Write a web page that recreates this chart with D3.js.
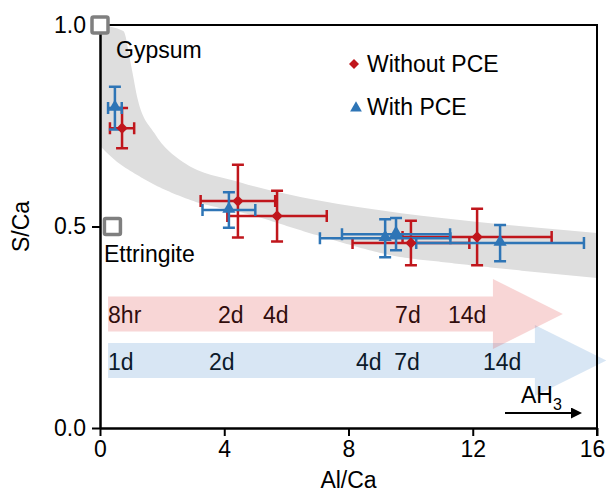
<!DOCTYPE html>
<html>
<head>
<meta charset="utf-8">
<script src="https://cdn.jsdelivr.net/npm/d3@7"></script>
<style>
  html, body { margin: 0; padding: 0; background: #fff; }
  svg { display: block; font-family: "Liberation Sans", Arial, sans-serif; }
</style>
</head>
<body>
<svg id="chart" width="607" height="492"></svg>
<script>
// ---------------- data ----------------
const seriesNames = ["Without PCE", "With PCE"];

// Without PCE (8hr, 2d, 4d, 7d, 14d)
const noPceTimes = ["8hr", "2d", "4d", "7d", "14d"];
const noPceAlCa = [0.71, 4.44, 5.70, 10.01, 12.14];
const noPceSCa = [0.744, 0.563, 0.526, 0.459, 0.474];
const noPceAlErr = [0.39, 1.20, 1.60, 1.88, 2.40];
const noPceSErr = [0.050, 0.090, 0.063, 0.055, 0.070];

// With PCE (1d, 2d, 4d, 7d, 14d)
const pceTimes = ["1d", "2d", "4d", "7d", "14d"];
const pceAlCa = [0.48, 4.15, 9.18, 9.53, 12.88];
const pceSCa = [0.794, 0.541, 0.471, 0.481, 0.459];
const pceAlErr = [0.22, 0.85, 2.10, 1.74, 2.70];
const pceSErr = [0.053, 0.044, 0.047, 0.040, 0.045];

// time-label positions along the arrows (Al/Ca, text start)
const noPceLabelAt = [0.26, 3.80, 5.25, 9.50, 11.20];
const pceLabelAt = [0.26, 3.51, 8.24, 9.47, 12.33];

// reference phases
const refNames = ["Gypsum", "Ettringite"];
const refAlCa = [0.0, 0.40];
const refSCa = [1.0, 0.5];

// grey guide band (upper and lower edges)
const bandUpperX = [0.0, 0.75, 1.0, 1.22, 1.75, 2.67, 4.5, 7.0, 9.7, 11.0, 16.0];
const bandUpperY = [1.0, 0.985, 0.90, 0.814, 0.732, 0.660, 0.610, 0.565, 0.533, 0.521, 0.484];
const bandLowerX = [0.0, 0.4, 1.3, 2.9, 4.8, 7.0, 9.7, 11.0, 16.0];
const bandLowerY = [0.70, 0.67, 0.623, 0.566, 0.530, 0.478, 0.424, 0.412, 0.372];

// axes
const xTicks = [0, 4, 8, 12, 16];
const yTicks = [0.0, 0.5, 1.0];
const xTitle = "Al/Ca";
const yTitle = "S/Ca";

// ---------------- chart ----------------
const svg = d3.select("#chart");
const FONT = 23;
const x = d3.scaleLinear().domain([0, 16]).range([100, 597]);
const y = d3.scaleLinear().domain([0, 1]).range([428, 25]);
const RED = "#c0161c", BLUE = "#2e75b6";

// band: upper curve forward, lower curve backward
const upper = bandUpperX.map((v, i) => [v, bandUpperY[i]]);
const lower = bandLowerX.map((v, i) => [v, bandLowerY[i]]);
const edge = d3.line().x(d => x(d[0])).y(d => y(d[1])).curve(d3.curveMonotoneX);
const pathUp = edge(upper);
const tmp = svg.append("path").attr("d", edge(lower)).attr("fill", "none");
const node = tmp.node(); const L = node.getTotalLength();
const revPts = [];
for (let i = 0; i <= 200; i++) { const p = node.getPointAtLength(L * (1 - i / 200)); revPts.push([p.x, p.y]); }
tmp.remove();
svg.append("path")
  .attr("d", pathUp + "L" + revPts.map(p => p[0].toFixed(2) + "," + p[1].toFixed(2)).join("L") + "Z")
  .attr("fill", "#dedede");

// time labels (drawn under translucent arrows)
const labG = svg.append("g").attr("font-size", FONT).attr("fill", "#000");
labG.selectAll("text.r").data(noPceTimes).join("text")
  .attr("x", (d, i) => x(noPceLabelAt[i])).attr("y", 323).text(d => d);
labG.selectAll("text.b").data(pceTimes).join("text")
  .attr("x", (d, i) => x(pceLabelAt[i])).attr("y", 370).text(d => d);

// arrows
function arrow(x0, xHead, xTip, yc, bodyH, headH) {
  return `M${x(x0)},${yc - bodyH}L${x(xHead)},${yc - bodyH}L${x(xHead)},${yc - headH}` +
    `L${x(xTip)},${yc}L${x(xHead)},${yc + headH}L${x(xHead)},${yc + bodyH}L${x(x0)},${yc + bodyH}Z`;
}
svg.append("path").attr("d", arrow(0.26, 14.0, 16.3, y(0.1675), 17.5, 35.5))
  .attr("fill", "rgb(60,130,200)").attr("fill-opacity", 0.2);
svg.append("path").attr("d", arrow(0.26, 12.65, 14.9, y(0.283), 17.5, 35))
  .attr("fill", "rgb(220,60,60)").attr("fill-opacity", 0.21);

// axes
const gx = svg.append("g").attr("transform", `translate(0,${y(0)})`)
  .call(d3.axisBottom(x).tickValues(xTicks).tickFormat(d3.format("d")).tickSize(8).tickSizeOuter(0));
const gy = svg.append("g").attr("transform", `translate(${x(0)},0)`)
  .call(d3.axisLeft(y).tickValues(yTicks).tickFormat(d3.format(".1f")).tickSize(8).tickSizeOuter(0));
[gx, gy].forEach(g => {
  g.select(".domain").attr("stroke", "#000").attr("stroke-width", 2.5);
  g.selectAll(".tick line").attr("stroke", "#000").attr("stroke-width", 2);
  g.selectAll(".tick text").attr("font-size", FONT).attr("fill", "#000")
    .attr("font-family", "Liberation Sans, Arial, sans-serif");
});
gx.selectAll(".tick text").attr("dy", "0.9em").attr("y", 8)
  .attr("x", d => d === 16 ? -5 : 0);
gy.selectAll(".tick text").attr("x", -14);
// frame top & right
svg.append("path").attr("d", `M${x(0)},${y(1)}H${x(16)}V${y(0) + 8}`)
  .attr("fill", "none").attr("stroke", "#000").attr("stroke-width", 2);

// axis titles
svg.append("text").attr("x", (x(0) + x(16)) / 2).attr("y", 488).attr("text-anchor", "middle")
  .attr("font-size", FONT).text(xTitle);
svg.append("text").attr("transform", `translate(29,${y(0.5)}) rotate(-90)`).attr("text-anchor", "middle")
  .attr("font-size", FONT).text(yTitle);

// reference squares
svg.selectAll("rect.ref").data(refNames).join("rect")
  .attr("x", (d, i) => x(refAlCa[i]) - 8).attr("y", (d, i) => y(refSCa[i]) - 8)
  .attr("width", 16).attr("height", 16).attr("rx", 1.5)
  .attr("fill", "#fff").attr("stroke", "#7f7f7f").attr("stroke-width", 3.5);
svg.append("text").attr("x", 116).attr("y", 58).attr("font-size", FONT).text(refNames[0]);
svg.append("text").attr("x", 104).attr("y", 262).attr("font-size", FONT).text(refNames[1]);

// error bars
function errBars(xs, ys, xe, ye, color) {
  const g = svg.append("g").attr("stroke", color).attr("stroke-width", 2.5).attr("fill", "none");
  const cap = 6;
  xs.forEach((v, i) => {
    const cx = x(v), cy = y(ys[i]);
    const x1 = x(v - xe[i]), x2 = x(v + xe[i]);
    const y1 = y(ys[i] + ye[i]), y2 = y(ys[i] - ye[i]);
    g.append("path").attr("d",
      `M${x1},${cy}H${x2}M${x1},${cy - cap}V${cy + cap}M${x2},${cy - cap}V${cy + cap}` +
      `M${cx},${y1}V${y2}M${cx - cap},${y1}H${cx + cap}M${cx - cap},${y2}H${cx + cap}`);
  });
}
errBars(noPceAlCa, noPceSCa, noPceAlErr, noPceSErr, RED);
errBars(pceAlCa, pceSCa, pceAlErr, pceSErr, BLUE);

const diamond = d3.symbol().type(d3.symbolSquare).size(64);
const tri = d3.symbol().type(d3.symbolTriangle).size(75);
svg.selectAll("path.nop").data(noPceAlCa).join("path")
  .attr("d", diamond)
  .attr("transform", (d, i) => `translate(${x(d)},${y(noPceSCa[i])}) rotate(45)`)
  .attr("fill", RED);
svg.selectAll("path.pce").data(pceAlCa).join("path")
  .attr("d", tri)
  .attr("transform", (d, i) => `translate(${x(d)},${y(pceSCa[i]) - 1})`)
  .attr("fill", BLUE);

// legend
const lg = svg.append("g").attr("font-size", FONT);
lg.append("path").attr("d", d3.symbol().type(d3.symbolSquare).size(50))
  .attr("transform", "translate(354,64) rotate(45)").attr("fill", RED);
lg.append("text").attr("x", 367).attr("y", 72).text(seriesNames[0]);
lg.append("path").attr("d", d3.symbol().type(d3.symbolTriangle).size(60))
  .attr("transform", "translate(356,108)").attr("fill", BLUE);
lg.append("text").attr("x", 367).attr("y", 115).text(seriesNames[1]);

// AH3 arrow
svg.append("defs").append("marker").attr("id", "ah").attr("viewBox", "0 0 10 10")
  .attr("refX", 0).attr("refY", 5).attr("markerWidth", 11).attr("markerHeight", 11)
  .attr("markerUnits", "userSpaceOnUse").attr("orient", "auto")
  .append("path").attr("d", "M0,0L10,5L0,10Z").attr("fill", "#000");
svg.append("line").attr("x1", 505).attr("x2", 571).attr("y1", 413).attr("y2", 413)
  .attr("stroke", "#000").attr("stroke-width", 2).attr("marker-end", "url(#ah)");
const ah = svg.append("text").attr("x", 521).attr("y", 403).attr("font-size", FONT);
ah.append("tspan").text("AH");
ah.append("tspan").attr("font-size", 16).attr("dy", 7).text("3");
</script>
</body>
</html>
